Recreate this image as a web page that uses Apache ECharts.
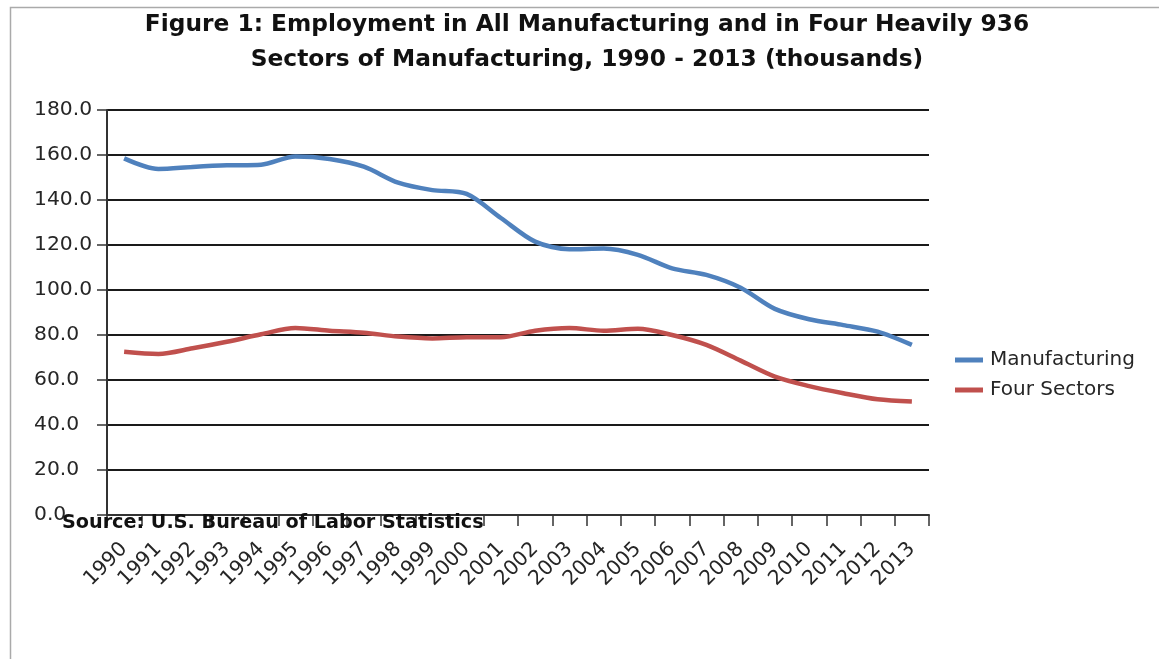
<!DOCTYPE html>
<html>
<head>
<meta charset="utf-8">
<script src="https://cdn.jsdelivr.net/npm/echarts@6/dist/echarts.min.js"></script>
<style>
html,body{margin:0;padding:0;background:#fff;}
#c{width:1159px;height:659px;}
</style>
</head>
<body>
<div id="c"></div>
<script>
const years = ['1990','1991','1992','1993','1994','1995','1996','1997','1998','1999','2000','2001','2002','2003','2004','2005','2006','2007','2008','2009','2010','2011','2012','2013'];
const manufacturing = [158.5,153.8,154.7,155.4,155.7,159.3,158.2,154.8,147.7,144.4,142.7,132.0,121.5,118.1,118.4,115.6,109.6,106.7,101.0,91.6,87.0,84.4,81.5,75.6];
const fourSectors = [72.6,71.6,74.1,77.0,80.3,83.1,81.9,81.0,79.3,78.5,79.0,79.0,81.9,83.1,81.9,82.8,80.0,75.6,68.6,61.5,57.3,54.1,51.4,50.4];
const yTicks = [0,20,40,60,80,100,120,140,160,180];
const titleLines = ['Figure 1: Employment in All Manufacturing and in Four Heavily 936', 'Sectors of Manufacturing, 1990 - 2013 (thousands)'];
const sourceText = 'Source: U.S. Bureau of Labor Statistics';

const FAMILY = '"DejaVu Sans", sans-serif';
const ctx = document.createElement('canvas').getContext('2d');
function fit(text, weight, target) {
  ctx.font = weight + ' 100px ' + FAMILY;
  return Math.round(target / ctx.measureText(text).width * 1000) / 10;
}
const titleSize = fit(titleLines[0], 'bold', 885);
const sourceSize = fit(sourceText, 'bold', 421);
const axisSize = fit('180.0', 'normal', 58);
const legendSize = fit('Manufacturing', 'normal', 145);

const chart = echarts.init(document.getElementById('c'));
chart.setOption({
  backgroundColor: '#fff',
  animation: false,
  legend: {
    orient: 'vertical',
    left: 950,
    top: 345,
    itemWidth: 28,
    itemHeight: 5,
    itemGap: 10,
    icon: 'rect',
    textStyle: {fontFamily: FAMILY, fontSize: legendSize, color: '#262626', padding: [0, 0, 0, 2]},
    data: ['Manufacturing', 'Four Sectors']
  },
  grid: {left: 107, top: 110, right: 230, bottom: 144, containLabel: false},
  xAxis: {
    type: 'category',
    data: years,
    boundaryGap: true,
    axisLine: {lineStyle: {color: '#333', width: 2}},
    axisTick: {show: true, alignWithLabel: false, length: 11, lineStyle: {color: '#333', width: 1.5}},
    axisLabel: {rotate: 45, interval: 0, fontFamily: FAMILY, fontSize: axisSize, color: '#262626', margin: 31}
  },
  yAxis: {
    type: 'value',
    min: yTicks[0],
    max: yTicks[yTicks.length - 1],
    interval: 20,
    axisLine: {show: true, lineStyle: {color: '#333', width: 2}},
    axisTick: {show: true, length: 10, lineStyle: {color: '#333', width: 1.5}},
    axisLabel: {fontFamily: FAMILY, fontSize: axisSize, color: '#262626', margin: 73, align: 'left', formatter: v => v.toFixed(1)},
    splitLine: {lineStyle: {color: '#1a1a1a', width: 2}}
  },
  series: [
    {name: 'Manufacturing', type: 'line', data: manufacturing, smooth: 0.3, showSymbol: false,
     lineStyle: {color: '#4F81BD', width: 4.5}, itemStyle: {color: '#4F81BD'}},
    {name: 'Four Sectors', type: 'line', data: fourSectors, smooth: 0.3, showSymbol: false,
     lineStyle: {color: '#C0504D', width: 4.5}, itemStyle: {color: '#C0504D'}}
  ],
  graphic: [
    {type: 'rect', left: 8, top: 5, shape: {width: 1200, height: 700}, style: {fill: 'none', stroke: '#aaa', lineWidth: 1.5}, silent: true, z: -1},
    {type: 'text', x: 587, y: 25, style: {text: titleLines[0], font: 'bold ' + titleSize + 'px ' + FAMILY, fill: '#111', align: 'center', verticalAlign: 'middle'}},
    {type: 'text', x: 587, y: 60, style: {text: titleLines[1], font: 'bold ' + titleSize + 'px ' + FAMILY, fill: '#111', align: 'center', verticalAlign: 'middle'}},
    {type: 'text', x: 62, y: 523, style: {text: sourceText, font: 'bold ' + sourceSize + 'px ' + FAMILY, fill: '#111', align: 'left', verticalAlign: 'middle'}, z: 10}
  ]
});
</script>
</body>
</html>
